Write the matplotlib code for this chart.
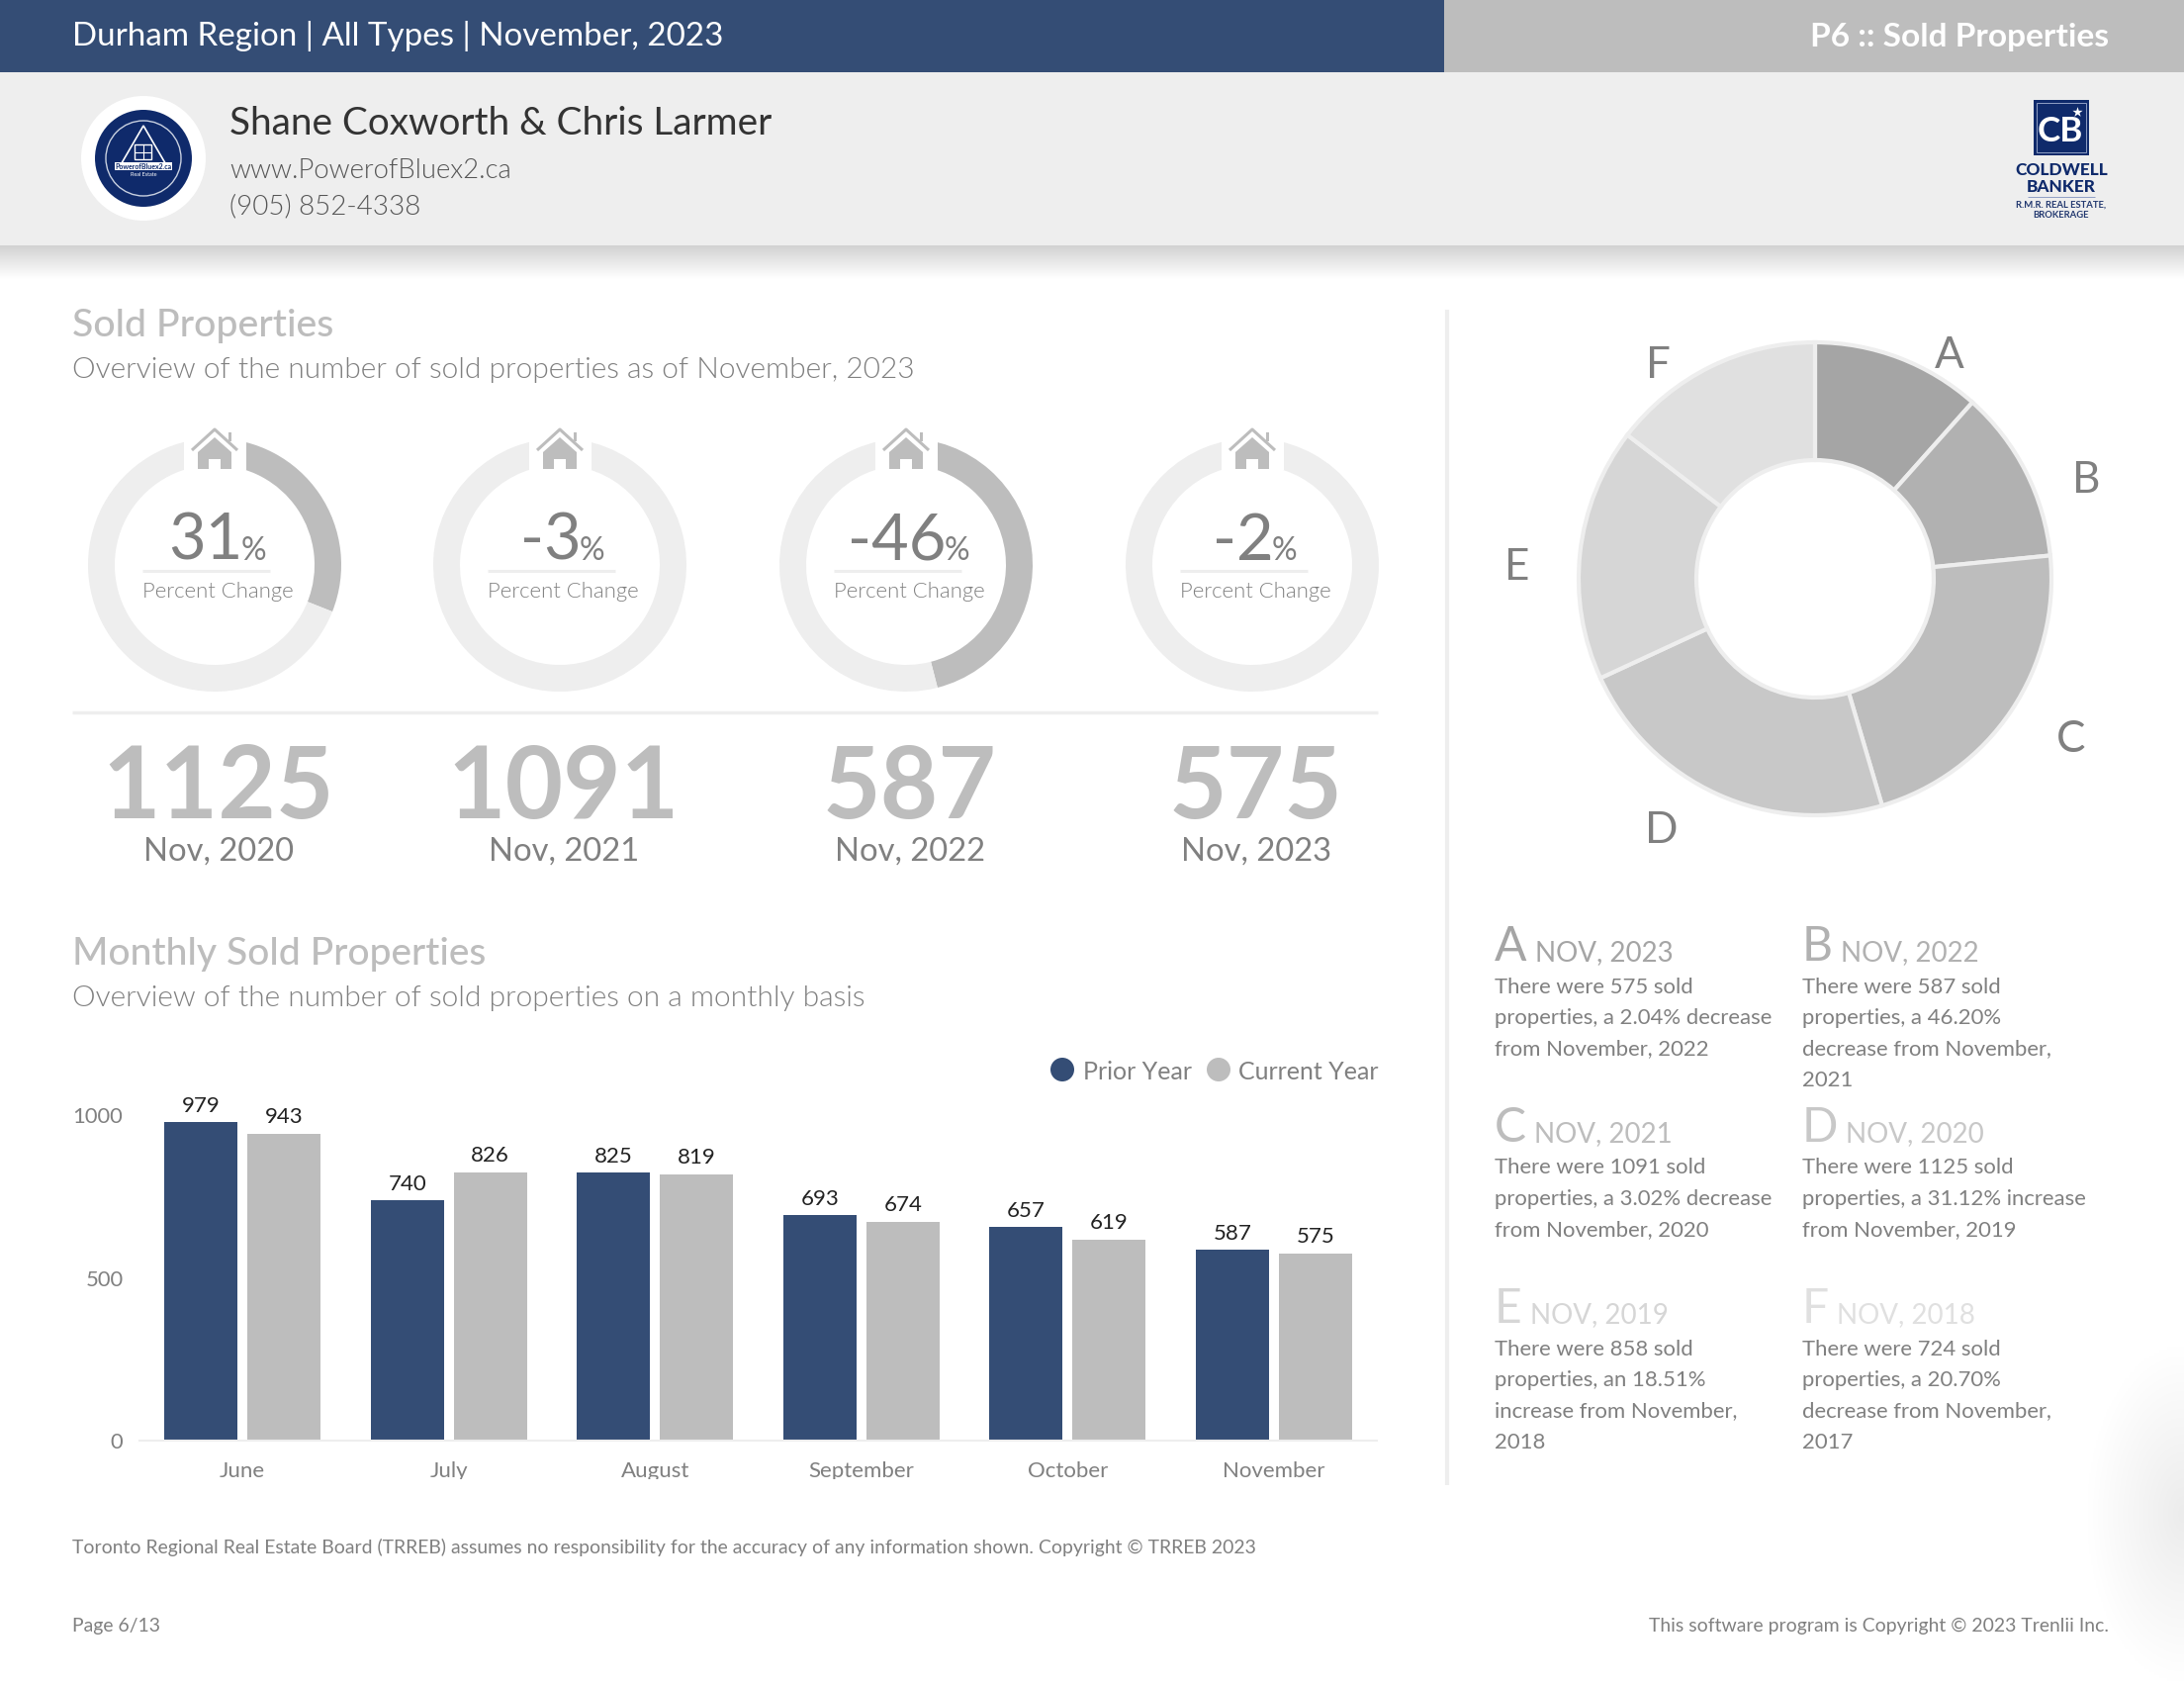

import numpy as np
import matplotlib
matplotlib.use("Agg")
import matplotlib.pyplot as plt
from matplotlib.patches import Rectangle, Circle, Polygon
from matplotlib.colors import LinearSegmentedColormap

W, H = 2208, 1702
NAVY = "#344d75"; GREY = "#bdbdbd"; PALE = "#eeeeee"; TXT = "#808080"
plt.rcParams["font.family"] = ["Lato", "Open Sans", "DejaVu Sans"]
plt.rcParams["lines.solid_capstyle"] = "butt"

# ---- data
months = ["June", "July", "August", "September", "October", "November"]
prior_year = [979, 740, 825, 693, 657, 587]
current_year = [943, 826, 819, 674, 619, 575]
y_ticks = [0, 500, 1000]
kpi_values = [1125, 1091, 587, 575]
kpi_labels = ["Nov, 2020", "Nov, 2021", "Nov, 2022", "Nov, 2023"]
kpi_changes = [31, -3, -46, -2]
share_letters = ["A", "B", "C", "D", "E", "F"]
share_values = [575, 587, 1091, 1125, 858, 724]
share_colors = ["#a5a5a5", "#b1b1b1", "#bdbdbd", "#c8c8c8", "#d6d6d6", "#e0e0e0"]
share_titles = ["NOV, 2023", "NOV, 2022", "NOV, 2021", "NOV, 2020", "NOV, 2019", "NOV, 2018"]
share_notes = [
    "There were 575 sold\nproperties, a 2.04% decrease\nfrom November, 2022",
    "There were 587 sold\nproperties, a 46.20%\ndecrease from November,\n2021",
    "There were 1091 sold\nproperties, a 3.02% decrease\nfrom November, 2020",
    "There were 1125 sold\nproperties, a 31.12% increase\nfrom November, 2019",
    "There were 858 sold\nproperties, an 18.51%\nincrease from November,\n2018",
    "There were 724 sold\nproperties, a 20.70%\ndecrease from November,\n2017",
]

def pt(px):
    return px * 72 / 100

fig = plt.figure(figsize=(W / 100, H / 100), dpi=100, facecolor="white")
page = fig.add_axes([0, 0, 1, 1])
page.set_xlim(0, W); page.set_ylim(H, 0); page.axis("off")

def T(x, y, s, px, c=TXT, ha="left", va="baseline", weight="normal", **k):
    return page.text(x, y, s, fontsize=pt(px), color=c, ha=ha, va=va, fontweight=weight, **k)

LIGHT = 300

# header
page.add_patch(Rectangle((0, 0), 1460, 73, fc=NAVY, ec="none"))
page.add_patch(Rectangle((1460, 0), W - 1460, 73, fc=GREY, ec="none"))
page.add_patch(Rectangle((0, 73), W, 175, fc=PALE, ec="none"))
shadow = LinearSegmentedColormap.from_list("s", ["#d2d2d2", "#ffffff"])
page.imshow(np.linspace(0, 1, 40)[:, None], cmap=shadow, extent=(0, W, 282, 248), aspect="auto", zorder=1)

# soft page-edge shade, lower right
gx, gy = np.meshgrid(np.linspace(0, 1, 60), np.linspace(-1, 1, 120))
shade = np.clip(1 - np.sqrt((1 - gx) ** 2 + gy ** 2), 0, 1)
page.imshow(shade, cmap=LinearSegmentedColormap.from_list("e", ["#ffffff", "#ececec"]), extent=(2110, W, 1700, 1360),
            aspect="auto", zorder=0, vmin=0, vmax=1)
page.set_xlim(0, W); page.set_ylim(H, 0)

T(73, 46.5, "Durham Region | All Types | November, 2023", 33.2, "white")
T(2132, 46.5, "P6 :: Sold Properties", 33.5, "white", ha="right", weight="bold")
T(232, 136.5, "Shane Coxworth & Chris Larmer", 38.8, "#333333")
T(232, 180, "www.PowerofBluex2.ca", 27.5, "#555555", weight=LIGHT)
T(232, 216, "(905) 852-4338", 27.7, "#555555", weight=LIGHT)

# logos
page.add_patch(Circle((145, 160), 63, fc="white", ec="none"))
page.add_patch(Circle((145, 160), 49, fc="#0f2a6b", ec="none"))
page.add_patch(Circle((145, 160), 38, fc="none", ec="#c8d0e0", lw=1))
page.add_patch(Polygon([[145, 127], [120, 170], [170, 170]], closed=True, fc="none", ec="white", lw=1.2))
page.add_patch(Rectangle((136, 146), 17, 15, fc="none", ec="white", lw=1))
page.plot([144.5, 144.5], [146, 161], color="white", lw=.8); page.plot([136, 153], [153.5, 153.5], color="white", lw=.8)
page.add_patch(Rectangle((116, 164), 58, 8, fc="white", ec="none"))
T(145, 171, "PowerofBluex2.ca", 7, "#0f2a6b", ha="center", weight="bold")
T(145, 178, "Real Estate", 5.5, "white", ha="center")
page.add_patch(Rectangle((2056, 101), 56, 56, fc="#0f2a6b", ec="none"))
page.add_patch(Rectangle((2059, 104), 50, 50, fc="none", ec="#8f9fc4", lw=.7))
T(2083, 143, "CB", 35, "white", ha="center", weight="bold")
page.scatter([2100], [113], marker="*", s=60, color="white", lw=0, zorder=3)
T(2084, 177, "COLDWELL", 17.2, "#0f2a6b", ha="center", weight="black")
T(2084, 194, "BANKER", 17.2, "#0f2a6b", ha="center", weight="black")
page.plot([2050, 2118], [198.5, 198.5], color="#8f9fc4", lw=.7)
T(2084, 210, "R.M.R. REAL ESTATE,", 9.5, "#22386f", ha="center", weight="bold")
T(2084, 220, "BROKERAGE", 9.5, "#22386f", ha="center", weight="bold")

# section heads
T(73, 340, "Sold Properties", 39.3, GREY, weight=500)
T(73, 382, "Overview of the number of sold properties as of November, 2023", 29.85, TXT, weight=LIGHT)
T(73, 975, "Monthly Sold Properties", 39, GREY, weight=500)
T(73, 1017.5, "Overview of the number of sold properties on a monthly basis", 29.85, TXT, weight=LIGHT)

# KPI rings
centers = [217, 566, 916, 1266]
for cx, val, lab, chg in zip(centers, kpi_values, kpi_labels, kpi_changes):
    ax = fig.add_axes([(cx - 128) / W, 1 - (571 + 128) / H, 256 / W, 256 / H], zorder=2)
    share = abs(chg)
    ax.pie([share, 100 - share], colors=[GREY, PALE], startangle=90, counterclock=False, radius=1,
           wedgeprops=dict(width=27 / 128, edgecolor="none"))
    ax.set_xlim(-1, 1); ax.set_ylim(-1, 1)
    over = fig.add_axes([0, 0, 1, 1], zorder=3); over.set_xlim(0, W); over.set_ylim(H, 0); over.axis("off")
    over.add_patch(Rectangle((cx - 31.5, 435), 63, 40, fc="white", ec="none"))
    over.add_patch(Polygon([[cx - 17, 457], [cx, 442], [cx + 17, 457], [cx + 17, 474], [cx + 6, 474], [cx + 6, 464],
                            [cx - 6, 464], [cx - 6, 474], [cx - 17, 474]], closed=True, fc=GREY, ec="none"))
    over.plot([cx - 23, cx, cx + 23], [455, 434, 455], color=GREY, lw=2.2)
    over.add_patch(Rectangle((cx + 14, 437), 3, 9, fc=GREY, ec="none"))
    t1 = over.text(cx - 9, 566, str(chg), fontsize=pt(65), color=TXT, ha="center", va="baseline")
    fig.canvas.draw()
    bb = t1.get_window_extent()
    over.text(bb.x1 - 2.5, 566, "%", fontsize=pt(32), color=TXT, ha="left", va="baseline")
    over.plot([cx - 73, cx + 56], [577, 577], color=PALE, lw=2.2)
    over.text(cx + 3, 604.5, "Percent Change", fontsize=pt(22.2), color=TXT, ha="center", va="baseline", fontweight=LIGHT)
    T(cx + 4, 827, str(val), 101, GREY, ha="center", weight="bold")
    T(cx + 4, 869.5, lab, 32.8, TXT, ha="center")
page.plot([73, 1393], [719.5, 719.5], color=PALE, lw=2.5)

# bars
ax = fig.add_axes([141 / W, 1 - 1456 / H, (1392 - 141) / W, (1456 - 1100) / H])
x = np.arange(len(months))
ax.bar(x - 0.2013, prior_year, 0.355, color=NAVY)
ax.bar(x + 0.2013, current_year, 0.355, color=GREY)
ax.set_xlim(-0.5, 5.5); ax.set_ylim(0, 356 / 0.3285)
for s in ["top", "left", "right"]:
    ax.spines[s].set_visible(False)
ax.spines["bottom"].set_color(PALE); ax.spines["bottom"].set_linewidth(1.5)
ax.patch.set_alpha(0)
ax.set_yticks(y_ticks); ax.set_yticklabels([str(v) for v in y_ticks], fontsize=pt(22), color=TXT)
ax.set_xticks(x); ax.set_xticklabels(months, fontsize=pt(22.3), color=TXT)
ax.tick_params(axis="x", length=0, pad=15)
ax.tick_params(axis="y", length=0, pad=12)
clipbox = Rectangle((0, H - 1495), W, 60, transform=None)
for lab in ax.get_xticklabels():
    lab.set_clip_on(True); lab.set_clip_path(clipbox)
for i, (p, c) in enumerate(zip(prior_year, current_year)):
    ax.annotate(str(p), (i - 0.2013, p), xytext=(0, 10), textcoords="offset pixels", ha="center", fontsize=pt(22.3), color="#222222")
    ax.annotate(str(c), (i + 0.2013, c), xytext=(0, 11), textcoords="offset pixels", ha="center", fontsize=pt(22.3), color="#222222")
page.add_patch(Circle((1074, 1081), 12, fc=NAVY, ec="none"))
T(1095, 1091, "Prior Year", 25, TXT)
page.add_patch(Circle((1232, 1081), 12, fc=GREY, ec="none"))
T(1252, 1091, "Current Year", 25, TXT)

# vertical divider
page.plot([1463, 1463], [313, 1501], color=PALE, lw=3)

# big donut
ax = fig.add_axes([(1835 - 240) / W, 1 - (585 + 240) / H, 480 / W, 480 / H])
ax.pie(share_values, colors=share_colors, startangle=90, counterclock=False, radius=239 / 240,
       wedgeprops=dict(width=119 / 240, edgecolor=PALE, linewidth=3))
ax.set_xlim(-1, 1); ax.set_ylim(-1, 1)
lab_pos = [(1971, 360), (2109, 485), (2094, 747), (1680, 839), (1534, 574), (1676, 370)]
for l, (lx, ly) in zip(share_letters, lab_pos):
    T(lx, ly, l, 44, TXT, ha="center", va="center")

# notes
note_x = [1511, 1822]
note_y = [971, 1154, 1337]
for i, (l, title, note) in enumerate(zip(share_letters, share_titles, share_notes)):
    nx = note_x[i % 2]; ny = note_y[i // 2]
    a = T(nx, ny, l, 48, share_colors[i])
    fig.canvas.draw()
    bb = a.get_window_extent()
    T(bb.x1 + 8, ny, title, 27.8, share_colors[i])
    for j, line in enumerate(note.split("\n")):
        T(nx, ny + 32.5 + j * 31.5, line, 22.2, TXT)

# footers
T(73, 1570, "Toronto Regional Real Estate Board (TRREB) assumes no responsibility for the accuracy of any information shown. Copyright © TRREB 2023", 19.38, TXT)
T(73, 1649, "Page 6/13", 19.38, TXT)
T(2132, 1649, "This software program is Copyright © 2023 Trenlii Inc.", 19.38, TXT, ha="right")

fig.savefig("out.png", dpi=100, facecolor="white")
